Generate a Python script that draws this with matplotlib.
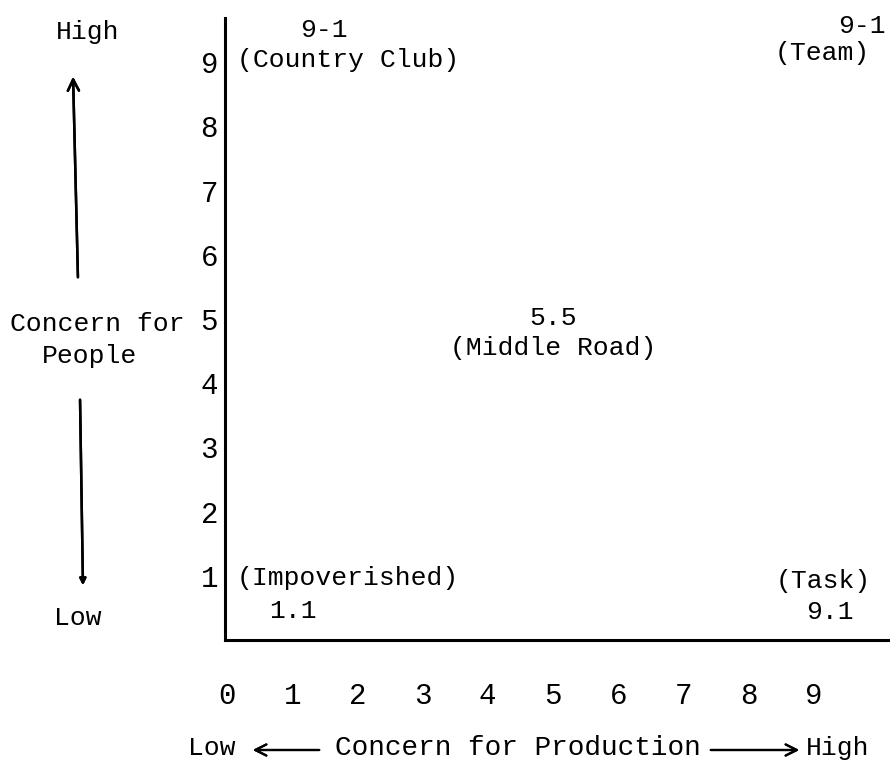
import matplotlib
matplotlib.use('Agg')
import matplotlib.pyplot as plt

# Managerial grid: scale ticks and the five named styles
x_ticks = [0, 1, 2, 3, 4, 5, 6, 7, 8, 9]
y_ticks = [1, 2, 3, 4, 5, 6, 7, 8, 9]
style_names = ['(Country Club)', '(Team)', '(Middle Road)', '(Impoverished)', '(Task)']
style_scores = ['9-1', '9-1', '5.5', '1.1', '9.1']

MONO = 'Liberation Mono'

fig = plt.figure(figsize=(8.9, 7.61), dpi=100)
W, H = 890, 761


def fx(px):
    return px / W


def fy(py):
    return 1 - py / H


ax = fig.add_axes([fx(225), fy(640), fx(890) - fx(225), fy(18) - fy(640)])
ax.set_xlim(-0.03, 10.17)
ax.set_ylim(0, 9.69)

for side in ['top', 'right']:
    ax.spines[side].set_visible(False)
for side in ['left', 'bottom']:
    ax.spines[side].set_linewidth(2.2)
    ax.spines[side].set_color('black')

ax.set_xticks(x_ticks)
ax.set_xticklabels([str(t) for t in x_ticks], fontsize=21, family=MONO)
ax.set_yticks(y_ticks)
ax.set_yticklabels([str(t) for t in y_ticks], fontsize=21, family=MONO)
ax.tick_params(axis='x', length=0, pad=30)
ax.tick_params(axis='y', length=0, pad=5)

# annotation placement for each style (name line, score line)
name_xy = [(1.86, 9.03), (9.13, 9.14), (5.0, 4.55), (1.86, 0.97), (9.14, 0.92)]
score_xy = [(1.49, 9.50), (9.74, 9.56), (5.0, 5.02), (1.01, 0.45), (9.25, 0.44)]
for name, score, nxy, sxy in zip(style_names, style_scores, name_xy, score_xy):
    ax.text(nxy[0], nxy[1], name, ha='center', va='center', fontsize=19,
            family=MONO, clip_on=False)
    ax.text(sxy[0], sxy[1], score, ha='center', va='center', fontsize=19,
            family=MONO, clip_on=False)

# y-axis caption with up/down arrows
fig.text(fx(88), fy(32), 'High', ha='center', va='center', fontsize=19, family=MONO)
fig.text(fx(78), fy(618), 'Low', ha='center', va='center', fontsize=19, family=MONO)
fig.text(fx(97), fy(324), 'Concern for', ha='center', va='center', fontsize=19, family=MONO)
fig.text(fx(90), fy(356), 'People', ha='center', va='center', fontsize=19, family=MONO)
fig.add_artist(plt.annotate('', xy=(fx(73), fy(74)), xytext=(fx(78), fy(280)),
                            xycoords='figure fraction', textcoords='figure fraction',
                            arrowprops=dict(arrowstyle='->', lw=1.8, color='black',
                                            mutation_scale=20)))
fig.add_artist(plt.annotate('', xy=(fx(83), fy(588)), xytext=(fx(80), fy(397)),
                            xycoords='figure fraction', textcoords='figure fraction',
                            arrowprops=dict(arrowstyle='-|>', lw=1.8, color='black',
                                            mutation_scale=9)))

# x-axis caption
fig.text(fx(212), fy(748), 'Low', ha='center', va='center', fontsize=19, family=MONO)
fig.text(fx(518), fy(748), 'Concern for Production', ha='center', va='center',
         fontsize=20, family=MONO)
fig.text(fx(838), fy(748), 'High', ha='center', va='center', fontsize=19, family=MONO)
fig.add_artist(plt.annotate('', xy=(fx(250), fy(750)), xytext=(fx(322), fy(750)),
                            xycoords='figure fraction', textcoords='figure fraction',
                            arrowprops=dict(arrowstyle='->', lw=1.6, color='black',
                                            mutation_scale=20)))
fig.add_artist(plt.annotate('', xy=(fx(802), fy(750)), xytext=(fx(708), fy(750)),
                            xycoords='figure fraction', textcoords='figure fraction',
                            arrowprops=dict(arrowstyle='->', lw=1.6, color='black',
                                            mutation_scale=20)))

fig.savefig('out.png', dpi=100)
